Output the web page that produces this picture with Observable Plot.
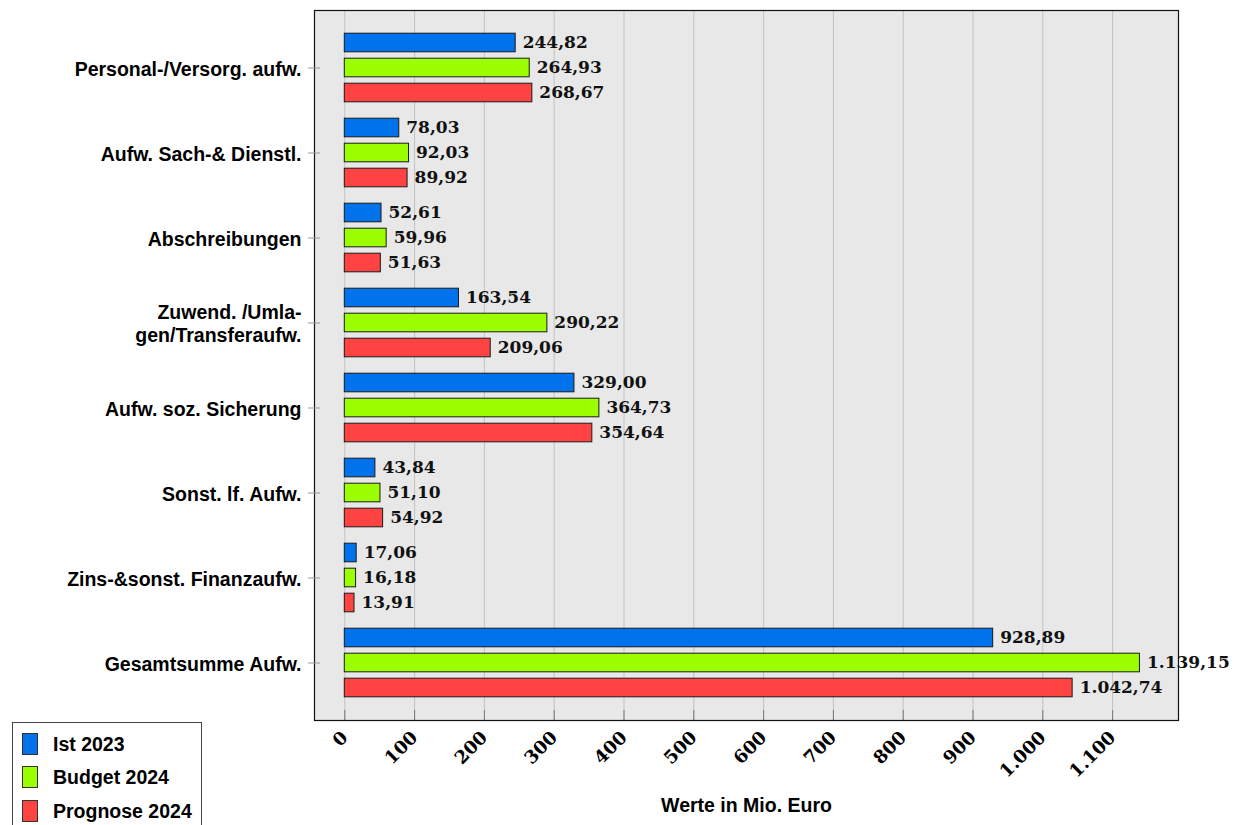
<!DOCTYPE html>
<html><head><meta charset="utf-8">
<script src="https://cdn.jsdelivr.net/npm/d3@7"></script>
<script src="https://cdn.jsdelivr.net/npm/@observablehq/plot@0.6"></script>
<style>
body{margin:0;background:#fff;}
#wrap{position:relative;width:1242px;height:825px;overflow:hidden;}
#legend{position:absolute;left:12px;top:722px;width:188px;height:120px;border:1px solid #444;background:#fff;font:bold 19.5px "Liberation Sans",Arial,sans-serif;color:#000;}
.item{position:absolute;left:9px;height:22px;line-height:22px;white-space:nowrap;}
.sw{display:inline-block;width:16px;height:22px;border:1px solid #333;vertical-align:top;box-sizing:border-box;}
.lab{position:absolute;left:31px;top:0;}
</style>
</head><body>
<div id="wrap"><div id="chart"></div><div id="legend"></div></div>
<script>
const categories = ["Personal-/Versorg. aufw.","Aufw. Sach-& Dienstl.","Abschreibungen","Zuwend. /Umla-\ngen/Transferaufw.","Aufw. soz. Sicherung","Sonst. lf. Aufw.","Zins-&sonst. Finanzaufw.","Gesamtsumme Aufw."];
const series = ["Ist 2023","Budget 2024","Prognose 2024"];
const ist2023 = [244.82,78.03,52.61,163.54,329.00,43.84,17.06,928.89];
const budget2024 = [264.93,92.03,59.96,290.22,364.73,51.10,16.18,1139.15];
const prognose2024 = [268.67,89.92,51.63,209.06,354.64,54.92,13.91,1042.74];
const colors = ["#0072ec","#9cff00","#ff4242"];
const xTicks = [0,100,200,300,400,500,600,700,800,900,1000,1100];

const seriesValues = [ist2023, budget2024, prognose2024];
const loc = d3.formatLocale({decimal:",", thousands:".", grouping:[3], currency:["","€"]});
const fmtVal = loc.format(",.2f");
const fmtTick = loc.format(",d");

const sans = "'Liberation Sans', Arial, sans-serif";
const serif = "'DejaVu Serif', serif";
const barStep = 25, barInset = 33.2;
const seriesMarks = series.flatMap((s,j)=>{
  const rows = categories.map((c,i)=>({cat:c, series:s, value:seriesValues[j][i]}));
  const off = (j-1)*barStep;
  return [
    Plot.barX(rows,{y:"cat", x:"value", fill:"series", stroke:"#1a1a1a", strokeWidth:1, insetTop:barInset+off, insetBottom:barInset-off}),
    Plot.text(rows,{y:"cat", x:"value", text:d=>fmtVal(d.value), dy:off, dx:7, textAnchor:"start", fontWeight:"bold", fontSize:17, fontFamily:serif, fill:"#111"})
  ];
});

const chart = Plot.plot({
  width:1242, height:825,
  marginTop:10, marginBottom:105, marginLeft:314, marginRight:64,
  style:{background:"transparent", fontFamily:serif, color:"#000"},
  x:{domain:[-43.4,1194.4]},
  y:{domain:categories, paddingInner:0, paddingOuter:0.157},
  color:{domain:series, range:colors},
  marks:[
    Plot.frame({fill:"#e8e8e8", stroke:null}),
    Plot.ruleX(xTicks,{stroke:"#c2c2c2", strokeWidth:1}),
    Plot.axisX({anchor:"bottom", ticks:xTicks, tickSize:10, dy:-10, tickFormat:()=>"", stroke:"#777", label:null}),
    ...seriesMarks,
    Plot.frame({stroke:"#111", strokeWidth:1.2}),
    Plot.axisY({anchor:"left", label:null, tickSize:12, dx:6, tickFormat:()=>"", stroke:"#999"}),
    Plot.axisY({anchor:"left", label:null, tickSize:0, tickPadding:13, fontSize:19.5, lineHeight:1.2, fontWeight:"bold", fontFamily:sans, tickFormat:d=>d}),
    Plot.axisX({anchor:"bottom", ticks:xTicks, tickFormat:fmtTick, tickRotate:-45, tickSize:0, tickPadding:14, fontSize:18, fontWeight:"bold", label:null}),
    Plot.axisX({anchor:"bottom", ticks:[], tickSize:0, label:"Werte in Mio. Euro", labelAnchor:"center", labelArrow:"none", labelOffset:91, fontSize:19.5, fontWeight:"bold", fontFamily:sans})
  ]
});
document.getElementById("chart").appendChild(chart);

const legend = document.getElementById("legend");
const tops = [10, 43, 77];
series.forEach((s,i)=>{
  const it = document.createElement("div");
  it.className = "item";
  it.style.top = tops[i] + "px";
  it.innerHTML = `<span class="sw" style="background:${colors[i]}"></span><span class="lab">${s}</span>`;
  legend.appendChild(it);
});
</script>
</body></html>
